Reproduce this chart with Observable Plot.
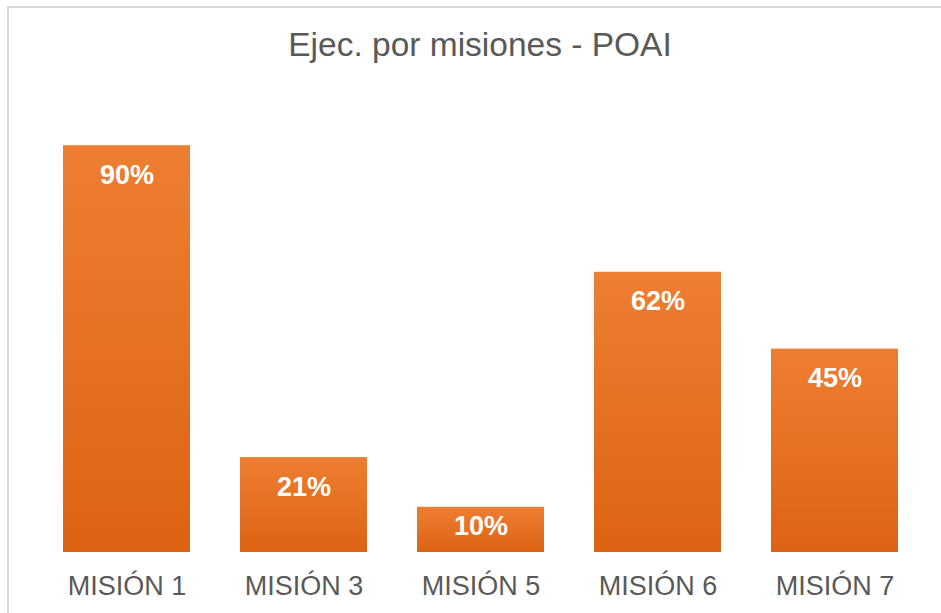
<!DOCTYPE html>
<html>
<head>
<meta charset="utf-8">
<script src="https://cdn.jsdelivr.net/npm/d3@7"></script>
<script src="https://cdn.jsdelivr.net/npm/@observablehq/plot@0.6"></script>
<style>
  html, body { margin: 0; padding: 0; background: #fff; overflow: hidden; width: 941px; height: 613px; }
  #frame { position: absolute; left: 7px; top: 6px; width: 960px; height: 700px; border: 2px solid #dadada; box-sizing: border-box; }
  #title { position: absolute; left: 0; width: 960px; top: 25px; text-align: center; font-family: "Liberation Sans", Arial, sans-serif; font-size: 33.5px; color: #595959; line-height: 40px; }
  #chart { position: absolute; left: 0; top: 0; }
</style>
</head>
<body>
<div id="frame"></div>
<div id="title">Ejec. por misiones - POAI</div>
<div id="chart"></div>
<script>
const categories = ["MISIÓN 1", "MISIÓN 3", "MISIÓN 5", "MISIÓN 6", "MISIÓN 7"];
const values = [0.90, 0.21, 0.10, 0.62, 0.45];
const valueLabels = ["90%", "21%", "10%", "62%", "45%"];

const data = categories.map((c, i) => ({ cat: c, value: values[i], label: valueLabels[i] }));

const font = '"Liberation Sans", Arial, sans-serif';

const plot = Plot.plot({
  width: 941,
  height: 613,
  marginLeft: 38,
  marginRight: 18,
  marginTop: 100,
  marginBottom: 61,
  style: { fontFamily: font, background: "transparent", overflow: "visible" },
  x: { domain: categories, paddingInner: 0.2825, paddingOuter: 0.14125, label: null },
  y: { domain: [0, 1], axis: null },
  marks: [
    Plot.barY(data, { x: "cat", y: "value", fill: "url(#barGrad)" }),
    Plot.text(data.filter(d => d.value >= 0.15), {
      x: "cat", y: "value", text: "label", fill: "white", fontWeight: "bold",
      fontSize: 27, lineAnchor: "bottom", dy: 38
    }),
    Plot.text(data.filter(d => d.value < 0.15), {
      x: "cat", y: "value", text: "label", fill: "white", fontWeight: "bold",
      fontSize: 27, lineAnchor: "bottom", dy: 28
    }),
    Plot.axisX({ tickSize: 0, tickPadding: 23, fontSize: 27, color: "#595959", label: null })
  ]
});

const svg = d3.select(plot);
const defs = svg.insert("defs", ":first-child");
const grad = defs.append("linearGradient").attr("id", "barGrad").attr("x1", 0).attr("y1", 0).attr("x2", 0).attr("y2", 1);
grad.append("stop").attr("offset", "0%").attr("stop-color", "#EE7E32");
grad.append("stop").attr("offset", "100%").attr("stop-color", "#DC6313");

document.getElementById("chart").appendChild(plot);
</script>
</body>
</html>
